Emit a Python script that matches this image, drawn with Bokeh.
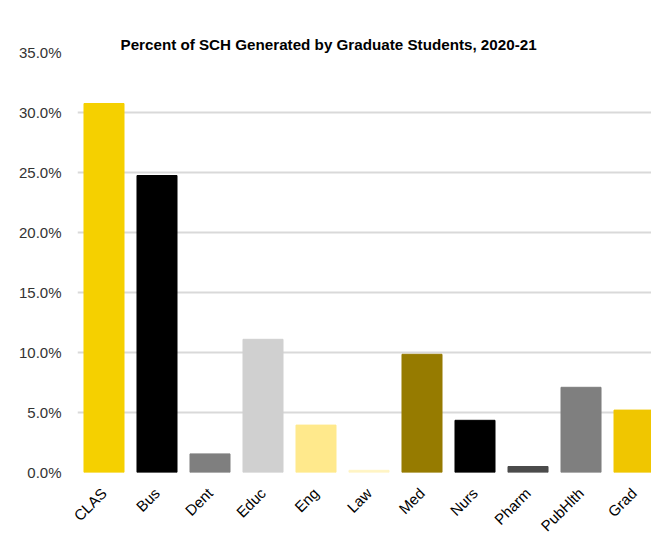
import math
from bokeh.plotting import figure
from bokeh.models import ColumnDataSource, FixedTicker, NumeralTickFormatter, Title
from bokeh.embed import file_html
from bokeh.resources import INLINE

categories = ["CLAS", "Bus", "Dent", "Educ", "Eng", "Law", "Med", "Nurs", "Pharm", "PubHlth", "Grad"]
values = [30.75, 24.75, 1.55, 11.1, 3.95, 0.18, 9.85, 4.35, 0.5, 7.1, 5.2]
colors = ["#F5D000", "#000000", "#7F7F7F", "#D0D0D0", "#FFE98C", "#FFF4C4",
          "#967B00", "#000000", "#4B4B4B", "#7F7F7F", "#F0C600"]
y_ticks = [0, 5, 10, 15, 20, 25, 30, 35]
title_text = "Percent of SCH Generated by Graduate Students, 2020-21"

src = ColumnDataSource(dict(x=list(range(len(categories))), top=[v / 100 for v in values],
                            color=colors))

p = figure(frame_width=574, frame_height=420, output_backend="svg", toolbar_location=None,
           x_range=(-0.5, 10.33), y_range=(0, 0.35), title=None,
           min_border_left=77, min_border_right=0, min_border_top=52, min_border_bottom=60)

p.vbar(x="x", top="top", width=0.755, color="color", source=src)

main_title = Title(text=title_text, text_font="Liberation Sans", text_font_size="15.2px",
                   text_font_style="bold", text_color="#000000", align="left", offset=43,
                   standoff=0, vertical_align="bottom")
p.add_layout(main_title, "above")
# spacer between chart and title (closest to the frame)
spacer = Title(text=" ", text_font_size="1px", standoff=24, text_alpha=0)
p.add_layout(spacer, "above")

p.outline_line_color = None
p.xgrid.grid_line_color = None
p.ygrid.grid_line_color = "#D9D9D9"
p.ygrid.grid_line_width = 2

p.yaxis.ticker = FixedTicker(ticks=[t / 100 for t in y_ticks])
p.yaxis.formatter = NumeralTickFormatter(format="0.0%")
p.yaxis.axis_line_color = None
p.yaxis.major_tick_line_color = None
p.yaxis.minor_tick_line_color = None
p.yaxis.major_label_text_font = "Liberation Sans"
p.yaxis.major_label_text_font_size = "15px"
p.yaxis.major_label_text_color = "#333333"
p.yaxis.major_label_standoff = 10

p.xaxis.ticker = FixedTicker(ticks=list(range(len(categories))))
p.xaxis.major_label_overrides = {i: c for i, c in enumerate(categories)}
p.xaxis.axis_line_color = None
p.xaxis.major_tick_line_color = None
p.xaxis.minor_tick_line_color = None
p.xaxis.major_label_orientation = math.pi / 4
p.xaxis.major_label_text_font = "Liberation Sans"
p.xaxis.major_label_text_font_size = "15px"
p.xaxis.major_label_text_color = "#000000"
p.xaxis.major_label_standoff = 12

open("out.html", "w").write(file_html(p, INLINE))
